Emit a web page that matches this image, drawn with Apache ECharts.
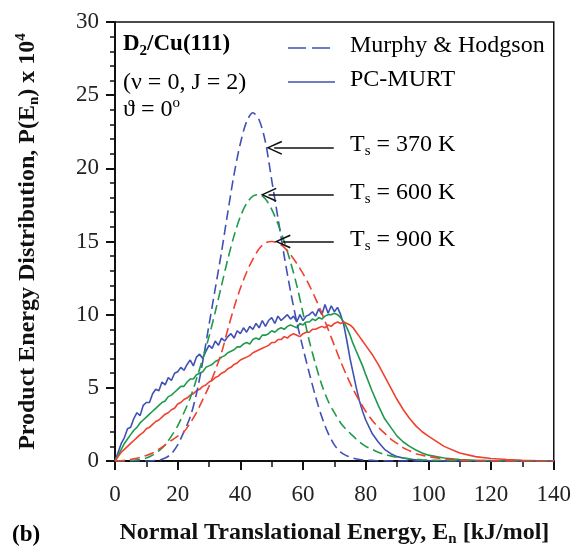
<!DOCTYPE html>
<html>
<head>
<meta charset="utf-8">
<script src="https://cdn.jsdelivr.net/npm/echarts@6/dist/echarts.min.js"></script>
<style>
  html, body { margin: 0; padding: 0; background: #fff; }
  #chart { width: 574px; height: 559px; }
</style>
</head>
<body>
<div id="chart"></div>
<script>
// energy grid for the Murphy & Hodgson (dashed) curves
var xDash = [0,2,4,6,8,10,12,14,16,18,20,22,24,26,28,30,32,34,36,38,40,42,44,46,48,50,
  52,54,56,58,60,62,64,66,68,70,72,74,76,78,80,82,84,86,88,90,92,94,96,98,100,105,110,115,120,130,140];
var blueDash = [0,0,0,0,0,0,0.02,0.05,0.2,0.5,1.1,2.0,3.0,4.6,6.8,9.3,11.8,14.3,17.0,19.6,21.7,23.2,23.8,23.3,21.8,19.2,
  16.6,14.0,11.6,9.5,7.7,6.0,4.4,3.0,1.9,1.1,0.6,0.35,0.2,0.1,0.06,0.04,0.02,0.01,0,0,0,0,0,0,0,0,0,0,0,0,0];
var greenDash = [0,0,0.02,0.05,0.1,0.2,0.4,0.7,1.1,1.7,2.4,3.3,4.3,5.6,7.0,8.5,10.2,12.0,13.8,15.4,16.7,17.6,18.1,18.2,17.9,17.2,
  16.2,15.0,13.6,12.0,10.1,8.2,6.6,5.2,4.1,3.3,2.6,2.1,1.7,1.3,1.0,0.8,0.6,0.45,0.35,0.25,0.2,0.15,0.11,0.08,0.06,0.03,0.01,0,0,0,0];
var redDash = [0,0.02,0.07,0.15,0.25,0.38,0.55,0.8,1.1,1.4,1.7,2.0,2.6,3.3,4.2,5.1,6.2,7.4,9.0,10.5,11.8,12.9,13.8,14.5,14.9,15.0,
  14.9,14.6,14.1,13.5,12.8,12.0,11.1,10.1,9.0,7.9,6.8,5.8,4.9,4.1,3.4,2.8,2.3,1.9,1.5,1.2,0.9,0.7,0.5,0.4,0.3,0.15,0.06,0.03,0.02,0,0];

// energy grid for the PC-MURT (solid) curves
var xSolid = [0,1,2,3,4,5,6,7,8,9,10,11,12,13,14,15,16,17,18,19,20,21,22,23,24,25,26,27,28,29,30,
  31,32,33,34,35,36,37,38,39,40,41,42,43,44,45,46,47,48,49,50,51,52,53,54,55,56,57,58,59,60,
  61,62,63,64,65,66,67,68,69,70,71,72,73,74,75,76,77,78,79,80,
  82,84,86,88,90,92,94,96,98,100,105,110,115,120,125,130,135,140];
var blueSolid = [0,0.6,1.2,1.6,2.2,2.3,2.9,3.3,3.1,3.8,4.0,4.0,4.6,4.9,4.8,5.4,5.2,5.7,5.5,6.0,6.1,
  6.4,6.2,6.6,6.9,6.5,7.1,7.3,7.0,7.5,7.9,7.7,8.2,7.9,8.4,8.2,8.5,8.7,8.4,8.9,8.7,
  9.1,8.8,9.2,9.0,9.4,9.1,9.6,9.2,9.6,9.8,9.4,9.9,9.6,9.8,10.0,9.7,9.9,9.5,10.0,9.6,
  9.9,10.0,10.2,9.9,10.4,10.0,10.7,10.1,10.6,10.2,10.5,10.0,9.3,8.2,7.0,6.0,5.0,4.1,3.4,2.8,
  1.9,1.3,0.8,0.5,0.3,0.2,0.12,0.08,0.05,0.03,0.01,0,0,0,0,0,0,0];
var greenSolid = [0,0.4,0.8,1.2,1.5,1.8,2.1,2.3,2.6,2.8,3.0,3.2,3.4,3.6,3.8,4.0,4.1,4.4,4.5,4.7,4.9,
  5.1,5.1,5.4,5.6,5.6,5.9,6.0,6.1,6.4,6.5,6.6,6.8,6.9,7.1,7.2,7.4,7.5,7.6,7.8,7.8,
  8.0,8.1,8.0,8.3,8.4,8.3,8.6,8.6,8.7,8.9,8.8,9.0,9.1,9.0,9.2,9.3,9.2,9.1,9.4,9.3,
  9.5,9.5,9.7,9.6,9.8,9.7,9.9,10.0,10.0,10.1,10.0,9.8,9.5,9.1,8.6,8.0,7.5,7.0,6.5,5.9,
  4.8,3.8,2.9,2.3,1.7,1.3,1.0,0.75,0.55,0.4,0.2,0.1,0.05,0.03,0.02,0.01,0,0];
var redSolid = [0,0.3,0.6,0.8,1.0,1.2,1.4,1.6,1.8,1.95,2.2,2.3,2.5,2.7,2.8,3.0,3.2,3.3,3.5,3.6,3.9,
  4.0,4.2,4.3,4.5,4.6,4.8,4.9,5.1,5.2,5.4,5.5,5.7,5.8,6.0,6.1,6.3,6.4,6.6,6.7,6.9,
  7.0,7.1,7.2,7.4,7.5,7.6,7.7,7.8,7.9,8.1,8.1,8.3,8.3,8.5,8.4,8.6,8.7,8.6,8.5,8.7,
  8.8,8.8,9.0,9.0,9.1,9.2,9.1,9.3,9.2,9.4,9.5,9.4,9.5,9.4,9.3,9.1,8.8,8.5,8.2,7.9,
  7.3,6.6,5.8,5.0,4.2,3.5,2.9,2.4,2.0,1.7,1.0,0.55,0.3,0.17,0.1,0.05,0.02,0.01];

// arrow annotations: [tail x, end x (chevron centre), y]
var arrows = [[69.8, 50.8, 21.4], [69.8, 49.0, 18.2], [69.8, 53.5, 15.0]];
var tempLabels = ['370', '600', '900'];

var BLUE = '#3f51b5', GREEN = '#1f9a4c', RED = '#ef4130';
var SERIF = '"Liberation Serif", "DejaVu Serif", serif';

function pairs(xs, ys) {
  return xs.map(function (x, i) { return [x, ys[i]]; });
}

function lineSeries(name, xs, ys, color, dashed) {
  return {
    name: name,
    type: 'line',
    data: pairs(xs, ys),
    showSymbol: false,
    smooth: dashed ? 0.3 : false,
    silent: true,
    z: dashed ? 3 : 2,
    lineStyle: { color: color, width: 1.6, type: dashed ? [10, 5] : 'solid' }
  };
}

var chevron = 'path://M10,0 L20,18 L18,19 L10,4 L2,19 L0,18 Z';

var series = [
  lineSeries('blueDash', xDash, blueDash, BLUE, true),
  lineSeries('greenDash', xDash, greenDash, GREEN, true),
  lineSeries('redDash', xDash, redDash, RED, true),
  lineSeries('blueSolid', xSolid, blueSolid, BLUE, false),
  lineSeries('greenSolid', xSolid, greenSolid, GREEN, false),
  lineSeries('redSolid', xSolid, redSolid, RED, false)
];
series[0].markLine = {
  silent: true,
  symbol: ['none', chevron],
  symbolSize: [14, 16],
  label: { show: false },
  lineStyle: { color: '#111', width: 1.5, type: 'solid' },
  data: arrows.map(function (a) {
    return [{ coord: [a[0], a[2]] }, { coord: [a[1], a[2]] }];
  })
};

var rich = {
  b: { fontFamily: SERIF, fontSize: 23, fontWeight: 'bold', color: '#111', lineHeight: 28 },
  bsub: { fontFamily: SERIF, fontSize: 15, fontWeight: 'bold', color: '#111', lineHeight: 15, verticalAlign: 'bottom' },
  bsup: { fontFamily: SERIF, fontSize: 15, fontWeight: 'bold', color: '#111', lineHeight: 15, verticalAlign: 'top' },
  r: { fontFamily: SERIF, fontSize: 24, color: '#111', lineHeight: 28 },
  rsub: { fontFamily: SERIF, fontSize: 15, color: '#111', lineHeight: 15, verticalAlign: 'bottom' },
  rsup: { fontFamily: SERIF, fontSize: 15, color: '#111', lineHeight: 15, verticalAlign: 'top' }
};
var richAxis = {
  b: { fontFamily: SERIF, fontSize: 24, fontWeight: 'bold', color: '#111', lineHeight: 28 },
  bsub: { fontFamily: SERIF, fontSize: 15, fontWeight: 'bold', color: '#111', lineHeight: 15, verticalAlign: 'bottom' },
  bsup: { fontFamily: SERIF, fontSize: 15, fontWeight: 'bold', color: '#111', lineHeight: 15, verticalAlign: 'top' }
};

var graphic = [
  { type: 'text', left: 123, top: 33, style: { text: '{b|D}{bsub|2}{b|/Cu(111)}', rich: rich } },
  { type: 'text', left: 123, top: 71, style: { text: '{r|(ν = 0, J = 2)}', rich: rich } },
  { type: 'text', left: 123, top: 96, style: { text: '{r|ϑ = 0}{rsup|o}', rich: rich } },
  { type: 'line', shape: { x1: 288, y1: 48, x2: 331, y2: 48 }, style: { stroke: BLUE, lineWidth: 1.6, lineDash: [18, 6] } },
  { type: 'line', shape: { x1: 288, y1: 82, x2: 335, y2: 82 }, style: { stroke: BLUE, lineWidth: 1.6 } },
  { type: 'text', left: 350, top: 34, style: { text: '{r|Murphy & Hodgson}', rich: rich } },
  { type: 'text', left: 350, top: 68, style: { text: '{r|PC-MURT}', rich: rich } },
  { type: 'text', left: 12, top: 524, style: { text: '{b|(b)}', rich: rich } }
];
var tempTops = [133, 181, 228];
tempLabels.forEach(function (t, i) {
  graphic.push({ type: 'text', left: 350, top: tempTops[i],
    style: { text: '{r|T}{rsub|s}{r| = ' + t + ' K}', rich: rich } });
});

var chart = echarts.init(document.getElementById('chart'), null, { renderer: 'canvas' });
chart.setOption({
  animation: false,
  backgroundColor: '#fff',
  grid: { left: 115, right: 19, top: 22, bottom: 98, show: true, borderColor: '#111', borderWidth: 1.5 },
  xAxis: {
    type: 'value', min: 0, max: 140, interval: 20,
    name: '{b|Normal Translational Energy, E}{bsub|n}{b| [kJ/mol]}',
    nameLocation: 'middle', nameGap: 58,
    nameTextStyle: { rich: richAxis },
    axisLine: { lineStyle: { color: '#111', width: 2 } },
    axisTick: { inside: false, length: 9, lineStyle: { color: '#111', width: 2 } },
    minorTick: { show: true, splitNumber: 2, length: 6, lineStyle: { color: '#111', width: 1.5 } },
    axisLabel: { fontFamily: SERIF, fontSize: 23, color: '#222', margin: 22 },
    splitLine: { show: false }
  },
  yAxis: {
    type: 'value', min: 0, max: 30, interval: 5,
    name: '{b|Product Energy Distribution, P(E}{bsub|n}{b|) x 10}{bsup|4}',
    nameLocation: 'middle', nameGap: 73,
    nameTextStyle: { rich: richAxis },
    axisLine: { lineStyle: { color: '#111', width: 2 } },
    axisTick: { inside: false, length: 9, lineStyle: { color: '#111', width: 2 } },
    minorTick: { show: true, splitNumber: 5, length: 5, lineStyle: { color: '#111', width: 1.5 } },
    axisLabel: { fontFamily: SERIF, fontSize: 23, color: '#222', margin: 16 },
    splitLine: { show: false }
  },
  series: series,
  graphic: graphic
});
</script>
</body>
</html>
